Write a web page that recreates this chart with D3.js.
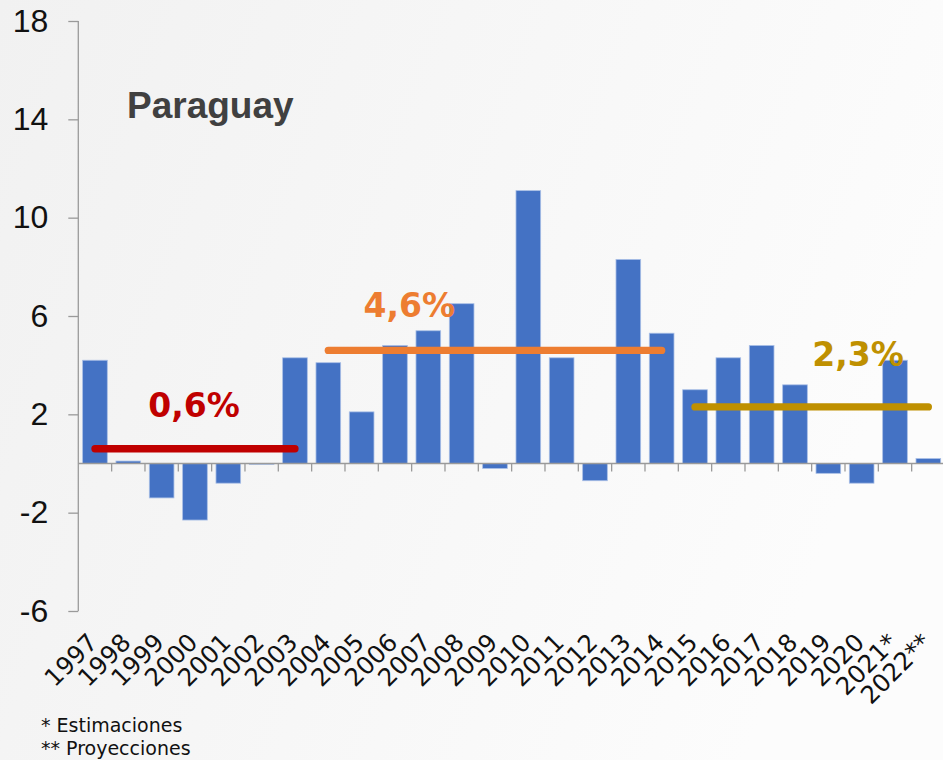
<!DOCTYPE html>
<html>
<head>
<meta charset="utf-8">
<script src="https://cdn.jsdelivr.net/npm/d3@7"></script>
<style>
  html, body { margin: 0; padding: 0; }
  body { width: 943px; height: 760px; overflow: hidden; }
</style>
</head>
<body>
<div id="chart"></div>
<script>
// data
const years = ["1997", "1998", "1999", "2000", "2001", "2002", "2003", "2004", "2005",
  "2006", "2007", "2008", "2009", "2010", "2011", "2012", "2013", "2014", "2015",
  "2016", "2017", "2018", "2019", "2020", "2021*", "2022**"];
const growth = [4.2, 0.1, -1.4, -2.3, -0.8, 0.0, 4.3, 4.1, 2.1, 4.8, 5.4, 6.5, -0.2,
  11.1, 4.3, -0.7, 8.3, 5.3, 3.0, 4.3, 4.8, 3.2, -0.4, -0.8, 4.2, 0.2];
const yTicks = [-6, -2, 2, 6, 10, 14, 18];

// period averages
const periodFrom = ["1997", "2004", "2015"];
const periodTo = ["2003", "2014", "2022**"];
const periodAvg = [0.6, 4.6, 2.3];
const periodText = ["0,6%", "4,6%", "2,3%"];

const title = "Paraguay";
const notes = ["* Estimaciones", "** Proyecciones"];

// styling / layout
const periodColor = ["#C00000", "#ED7D31", "#BF9000"];
const labelOffset = [[99, -32], [81, -33], [163, -41]]; // dx from start, dy from line
const width = 943, height = 760;
const margin = { left: 78.3, top: 21, right: -2, bottom: 149 };

const svg = d3.select("#chart").append("svg")
  .attr("width", width)
  .attr("height", height);

// background gradient
const defs = svg.append("defs");
const grad = defs.append("linearGradient").attr("id", "bg")
  .attr("x1", "0%").attr("y1", "0%").attr("x2", "100%").attr("y2", "30%");
grad.append("stop").attr("offset", "0%").attr("stop-color", "#f1f1f1");
grad.append("stop").attr("offset", "100%").attr("stop-color", "#fcfcfc");
svg.append("rect").attr("width", width).attr("height", height).attr("fill", "url(#bg)");

const x = d3.scaleBand()
  .domain(years)
  .range([margin.left, width - margin.right])
  .paddingInner(0.26)
  .paddingOuter(0.13);

const y = d3.scaleLinear()
  .domain([-6, 18])
  .range([height - margin.bottom, margin.top]);

const step = x.step();
const center = d => x(d) + x.bandwidth() / 2;

// bars
svg.append("g")
  .selectAll("rect")
  .data(years)
  .join("rect")
  .attr("x", d => x(d))
  .attr("width", x.bandwidth())
  .attr("y", (d, i) => y(Math.max(0, growth[i])))
  .attr("height", (d, i) => Math.max(Math.abs(y(growth[i]) - y(0)), 0.8))
  .attr("fill", "#4472C4")
  .attr("stroke", "#a9bfe6")
  .attr("stroke-width", 0.8);

// y axis
const yAxis = svg.append("g")
  .attr("transform", `translate(${margin.left},0)`)
  .call(d3.axisLeft(y).tickValues(yTicks).tickFormat(d => String(d))
    .tickSize(10).tickSizeOuter(0).tickPadding(20));
yAxis.select(".domain").attr("stroke", "#9a9a9a").attr("stroke-width", 1.3)
  .attr("d", `M0,${y(18)}V${y(-6)}`);
yAxis.selectAll(".tick line").attr("stroke", "#9a9a9a").attr("stroke-width", 1.3);
yAxis.selectAll(".tick text")
  .attr("font-family", "Liberation Sans, Arial, sans-serif")
  .attr("font-size", 32)
  .attr("fill", "#111");

// x axis at zero
const xAxis = svg.append("g").attr("transform", `translate(0,${y(0)})`);
xAxis.append("line")
  .attr("x1", margin.left).attr("x2", width)
  .attr("stroke", "#9a9a9a").attr("stroke-width", 1.5);
xAxis.selectAll(".tk")
  .data(years.slice(1))
  .join("line")
  .attr("class", "tk")
  .attr("x1", d => x(d) - step * 0.13).attr("x2", d => x(d) - step * 0.13)
  .attr("y1", 0).attr("y2", 8)
  .attr("stroke", "#9a9a9a").attr("stroke-width", 1.3);

// year labels
svg.append("g")
  .selectAll("text")
  .data(years)
  .join("text")
  .attr("transform", d => `translate(${center(d) + 4},${y(-6) + 33}) rotate(-45)`)
  .attr("text-anchor", "end")
  .attr("font-family", "DejaVu Sans, sans-serif")
  .attr("font-size", 24.5)
  .attr("fill", "#111")
  .text(d => d);

// period average lines
svg.append("g")
  .selectAll("line")
  .data(periodAvg)
  .join("line")
  .attr("x1", (d, i) => center(periodFrom[i]))
  .attr("x2", (d, i) => center(periodTo[i]))
  .attr("y1", d => y(d))
  .attr("y2", d => y(d))
  .attr("stroke", (d, i) => periodColor[i])
  .attr("stroke-width", 7.3)
  .attr("stroke-linecap", "round");

svg.append("g")
  .selectAll("text")
  .data(periodAvg)
  .join("text")
  .attr("x", (d, i) => center(periodFrom[i]) + labelOffset[i][0])
  .attr("y", (d, i) => y(d) + labelOffset[i][1])
  .attr("text-anchor", "middle")
  .attr("font-family", "DejaVu Sans, sans-serif")
  .attr("font-weight", "bold")
  .attr("font-size", 33)
  .attr("fill", (d, i) => periodColor[i])
  .text((d, i) => periodText[i]);

// title
svg.append("text")
  .attr("x", 127)
  .attr("y", 118)
  .attr("font-family", "Liberation Sans, Arial, sans-serif")
  .attr("font-weight", "bold")
  .attr("font-size", 37)
  .attr("fill", "#404040")
  .text(title);

// footnotes
svg.append("g")
  .selectAll("text")
  .data(notes)
  .join("text")
  .attr("x", 41)
  .attr("y", (d, i) => 731.5 + i * 23.5)
  .attr("font-family", "DejaVu Sans, sans-serif")
  .attr("font-size", 19)
  .attr("fill", "#111")
  .text(d => d);
</script>
</body>
</html>
